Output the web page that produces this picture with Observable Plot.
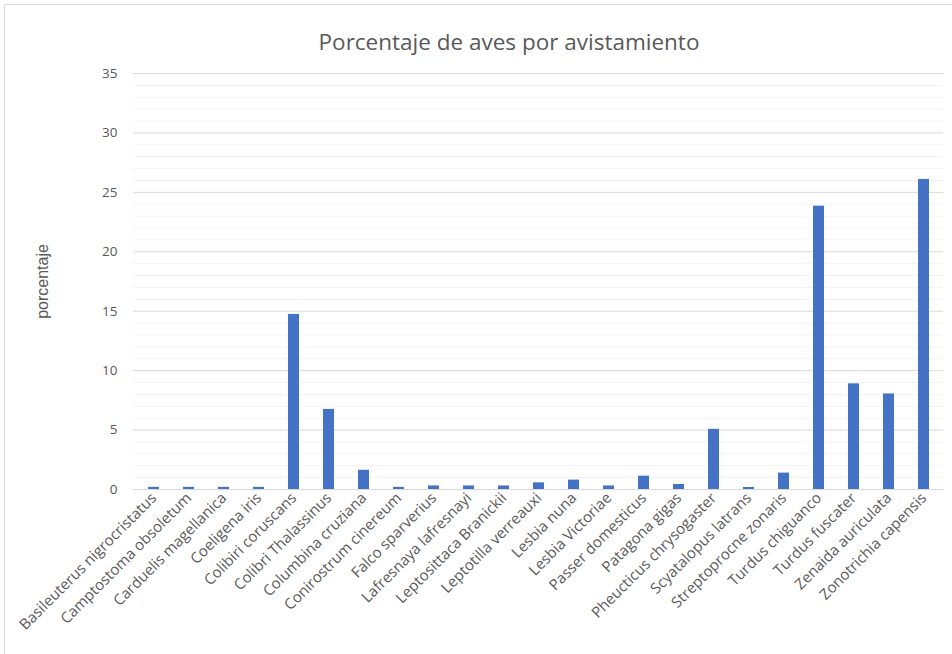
<!DOCTYPE html>
<html>
<head>
<meta charset="utf-8">
<script src="https://cdn.jsdelivr.net/npm/d3@7"></script>
<script src="https://cdn.jsdelivr.net/npm/@observablehq/plot@0.6"></script>
<style>
  html, body { margin: 0; padding: 0; background: #fff; }
  #wrap { position: relative; width: 952px; height: 654px; overflow: hidden; }
  #border { position: absolute; left: 4px; top: 4px; width: 960px; height: 660px; border: 1px solid #d9d9d9; box-sizing: border-box; pointer-events: none; }
  #title { position: absolute; top: 26px; left: 0; width: 1018px; text-align: center; font-family: "Open Sans", sans-serif; font-size: 22.5px; color: #595959; }
  #chart { position: absolute; left: 0; top: 0; }
</style>
</head>
<body>
<div id="wrap">
  <div id="chart"></div>
  <div id="border"></div>
  <div id="title">Porcentaje de aves por avistamiento</div>
</div>
<script>
const species = [
  "Basileuterus nigrocristatus", "Camptostoma obsoletum", "Carduelis magellanica", "Coeligena iris",
  "Colibiri coruscans", "Colibri Thalassinus", "Columbina cruziana", "Conirostrum cinereum",
  "Falco sparverius", "Lafresnaya lafresnayi", "Leptosittaca Branickii", "Leptotilla verreauxi",
  "Lesbia nuna", "Lesbia Victoriae", "Passer domesticus", "Patagona gigas",
  "Pheucticus chrysogaster", "Scyatalopus latrans", "Streptoprocne zonaris", "Turdus chiguanco",
  "Turdus fuscater", "Zenaida auriculata", "Zonotrichia capensis"
];
const porcentaje = [
  0.18, 0.18, 0.18, 0.18,
  14.73, 6.74, 1.62, 0.18,
  0.3, 0.3, 0.3, 0.56,
  0.79, 0.3, 1.12, 0.42,
  5.06, 0.17, 1.38, 23.84,
  8.89, 8.04, 26.09
];
const majorTicks = [0, 5, 10, 15, 20, 25, 30, 35];
const minorTicks = [1,2,3,4,6,7,8,9,11,12,13,14,16,17,18,19,21,22,23,24,26,27,28,29,31,32,33,34];
const title = "Porcentaje de aves por avistamiento";
const yLabel = "porcentaje";

const data = species.map((s, i) => ({species: s, value: porcentaje[i]}));

const chart = Plot.plot({
  width: 952,
  height: 654,
  marginTop: 73,
  marginBottom: 165,
  marginLeft: 133,
  marginRight: 9,
  style: {fontFamily: "Open Sans, sans-serif", fontSize: "13px", color: "#595959", background: "transparent"},
  x: {domain: species, paddingInner: 0.69, paddingOuter: 0.345, label: null},
  y: {domain: [0, 35], label: null},
  marks: [
    Plot.ruleY(minorTicks, {stroke: "#f2f2f2", strokeWidth: 1}),
    Plot.ruleY(majorTicks, {stroke: "#d9d9d9", strokeWidth: 1}),
    Plot.barY(data, {x: "species", y: "value", fill: "#4472c4"}),
    Plot.axisY(majorTicks, {tickSize: 0, tickPadding: 16, fontSize: 13.5}),
    Plot.axisX({tickSize: 0, tickPadding: 6, tickRotate: -45, fontSize: 15}),
    Plot.text([yLabel], {frameAnchor: "left", textAnchor: "middle", dx: -91, rotate: -90, fontSize: 16, fontFamily: "Liberation Sans, sans-serif", fill: "#595959"})
  ]
});
document.getElementById("chart").appendChild(chart);
</script>
</body>
</html>
